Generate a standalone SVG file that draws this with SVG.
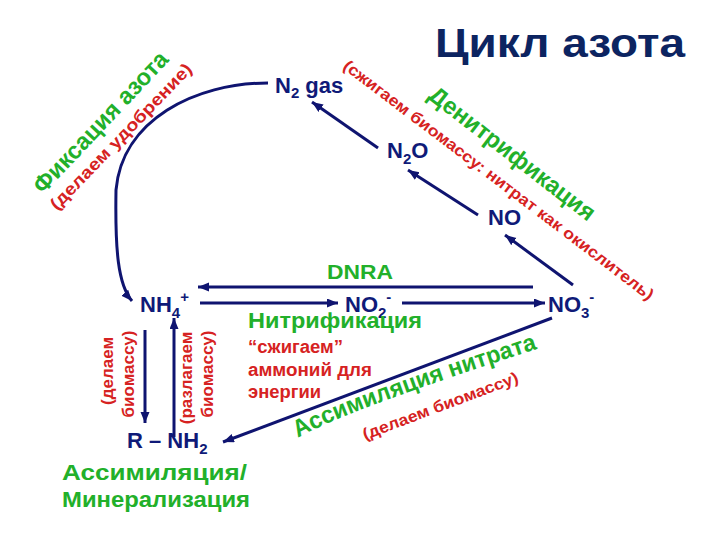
<svg xmlns="http://www.w3.org/2000/svg" width="720" height="540" viewBox="0 0 720 540">
<style>
text{font-family:"Liberation Sans",Arial,sans-serif;font-weight:bold}
.chem{fill:#0f1a78;font-size:22px}
.g{fill:#22b02a}
.r{fill:#d62222}
.ln{stroke:#0f1470;stroke-width:3;fill:none}
</style>
<defs>
<marker id="ah" markerUnits="userSpaceOnUse" markerWidth="12" markerHeight="10" refX="11" refY="4.5" orient="auto">
<path d="M0,0 L11,4.5 L0,9 z" fill="#0f1470"/>
</marker>
<path id="assimPath" d="M298,438 Q341,412 546,346"/>
</defs>
<rect width="720" height="540" fill="#fff"/>

<text id="title" x="435" y="57" font-size="41" fill="#0c2461" textLength="250" lengthAdjust="spacingAndGlyphs">Цикл азота</text>

<g id="connectors">
<path class="ln" d="M268,83 C195,83 122,120 116,190 C115,250 118,285 132,301" marker-end="url(#ah)"/>
<path class="ln" d="M378,148 L312,102" marker-end="url(#ah)"/>
<path class="ln" d="M478,215 L408,170" marker-end="url(#ah)"/>
<path class="ln" d="M573,285 L505,235" marker-end="url(#ah)"/>
<path class="ln" d="M533,287 L198,287" marker-end="url(#ah)"/>
<path class="ln" d="M200,303 L338,303" marker-end="url(#ah)"/>
<path class="ln" d="M402,303 L545,303" marker-end="url(#ah)"/>
<path class="ln" d="M552,318 L223,442" marker-end="url(#ah)"/>
<path class="ln" d="M145,330 L145,423" marker-end="url(#ah)"/>
<path class="ln" d="M174,437 L174,318" marker-end="url(#ah)"/>
</g>

<g id="n2gas"><text class="chem" x="275" y="93" font-size="21">N<tspan font-size="15" dy="5">2</tspan><tspan dy="-5"> gas</tspan></text></g>
<g id="n2o"><text class="chem" x="387" y="158">N<tspan font-size="15" dy="6">2</tspan><tspan dy="-6">O</tspan></text></g>
<g id="no"><text class="chem" x="488" y="225">NO</text></g>
<g id="nh4"><text class="chem" x="140" y="312">NH<tspan font-size="15" dy="6">4</tspan><tspan font-size="15" dy="-16">+</tspan></text></g>
<g id="no2"><text class="chem" x="345" y="312">NO<tspan font-size="15" dy="6">2</tspan><tspan font-size="15" dy="-16">-</tspan></text></g>
<g id="no3"><text class="chem" x="548" y="312">NO<tspan font-size="15" dy="6">3</tspan><tspan font-size="15" dy="-16">-</tspan></text></g>
<g id="rnh2"><text class="chem" x="127" y="448" font-size="22">R – NH<tspan font-size="15" dy="6">2</tspan></text></g>

<g id="labels">
<text class="g" font-size="24" transform="translate(43,195) rotate(-46.7)" textLength="185" lengthAdjust="spacingAndGlyphs">Фиксация азота</text>
<text class="r" font-size="17" transform="translate(57,211) rotate(-46)" textLength="196" lengthAdjust="spacingAndGlyphs">(делаем удобрение)</text>
<text class="g" font-size="24" transform="translate(427,98) rotate(37.6)" textLength="203" lengthAdjust="spacingAndGlyphs">Денитрификация</text>
<text class="r" font-size="16" transform="translate(342,68) rotate(37.2)" textLength="385" lengthAdjust="spacingAndGlyphs">(сжигаем биомассу: нитрат как окислитель)</text>
<text class="g" font-size="21" x="327" y="279" textLength="66" lengthAdjust="spacingAndGlyphs">DNRA</text>
<text class="g" font-size="22" x="248" y="328" textLength="174" lengthAdjust="spacingAndGlyphs">Нитрификация</text>
<text class="r" font-size="18" x="248" y="353" textLength="95" lengthAdjust="spacingAndGlyphs">“сжигаем”</text>
<text class="r" font-size="18" x="248" y="376" textLength="124" lengthAdjust="spacingAndGlyphs">аммоний для</text>
<text class="r" font-size="18" x="248" y="398" textLength="73" lengthAdjust="spacingAndGlyphs">энергии</text>
<text class="g" font-size="24"><textPath href="#assimPath" textLength="256" lengthAdjust="spacingAndGlyphs">Ассимиляция нитрата</textPath></text>
<text class="r" font-size="16" transform="translate(365,440) rotate(-20.6)" textLength="165" lengthAdjust="spacingAndGlyphs">(делаем биомассу)</text>
<text class="r" font-size="17" text-anchor="middle" transform="translate(113,371) rotate(-90)">(делаем</text>
<text class="r" font-size="17" text-anchor="middle" transform="translate(134,374) rotate(-90)">биомассу)</text>
<text class="r" font-size="17" text-anchor="middle" transform="translate(192,378) rotate(-90)">(разлагаем</text>
<text class="r" font-size="17" text-anchor="middle" transform="translate(213,374) rotate(-90)">биомассу)</text>
<text class="g" font-size="22" x="62" y="480" textLength="185" lengthAdjust="spacingAndGlyphs">Ассимиляция/</text>
<text class="g" font-size="22" x="62" y="507" textLength="188" lengthAdjust="spacingAndGlyphs">Минерализация</text>
</g>
</svg>
